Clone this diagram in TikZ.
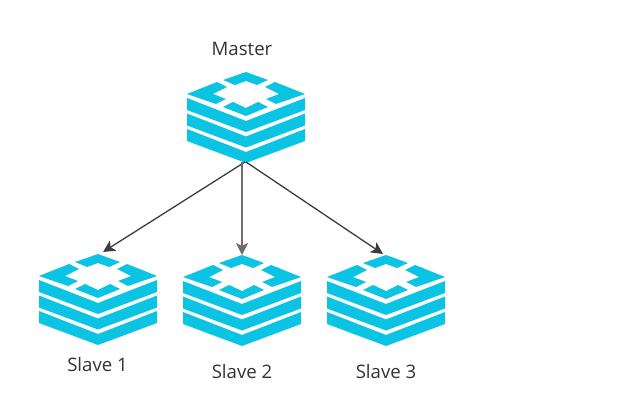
\documentclass[tikz,border=0pt]{standalone}
\usepackage{fontspec}
\usetikzlibrary{arrows.meta}
\setmainfont{Open Sans}
\definecolor{stackblue}{HTML}{0BC3E3}
\definecolor{linkgray}{HTML}{3C3C3C}
\tikzset{
	link/.style={draw=linkgray, line width=1.3pt, -{Stealth[length=12pt,width=12pt,inset=3pt]}},
	hostlabel/.style={font=\fontsize{18.6}{20}\selectfont, text=black!80},
	stackicon/.pic={
		% top ring, four pieces
		\fill[stackblue] (-23,8) -- (0,0) -- (22,8) -- (11,13) -- (0,9) -- (-11,13) -- cycle;
		\fill[stackblue] (-59,22) -- (-29,10) -- (-19,15) -- (-33,22) -- (-20,27) -- (-30,32) -- cycle;
		\fill[stackblue] (59,22) -- (29,10) -- (19,15) -- (33,22) -- (20,27) -- (30,32) -- cycle;
		\fill[stackblue] (-23,35) -- (-13,30) -- (0,36) -- (12,30) -- (22,35) -- (0,44) -- cycle;
		% three layers below
		\foreach \y in {0,15.5,31}{
			\fill[stackblue] (-59,26+\y) -- (0,49+\y) -- (59,26+\y) -- (59,38+\y) -- (0,60+\y) -- (-59,38+\y) -- cycle;
		}
		\coordinate (-top) at (0,0);
		\coordinate (-bottom) at (0,90);
	}
}
\begin{document}
\begin{tikzpicture}[x=1pt,y=-1pt]
	\useasboundingbox (0,0) rectangle (618,403);
	\pic (master) at (246,72) {stackicon};
	\pic (slaveone) at (98,254) {stackicon};
	\pic (slavetwo) at (242,255) {stackicon};
	\pic (slavethree) at (386,255) {stackicon};

	\node[hostlabel] (masterlabel) at (242,49) {Master};
	\node[hostlabel] (slaveonelabel) at (97.5,365) {Slave 1};
	\node[hostlabel] (slavetwolabel) at (242,372) {Slave 2};
	\node[hostlabel] (slavethreelabel) at (386,372) {Slave 3};

	\draw[link] ([xshift=-1pt]master-bottom) -- ([xshift=5pt,yshift=2pt]slaveone-top);
	\draw[link, draw=linkgray!75] ([xshift=-4pt]master-bottom) -- (slavetwo-top);
	\draw[link] (master-bottom) -- ([xshift=-3pt,yshift=1pt]slavethree-top);
\end{tikzpicture}
\end{document}
